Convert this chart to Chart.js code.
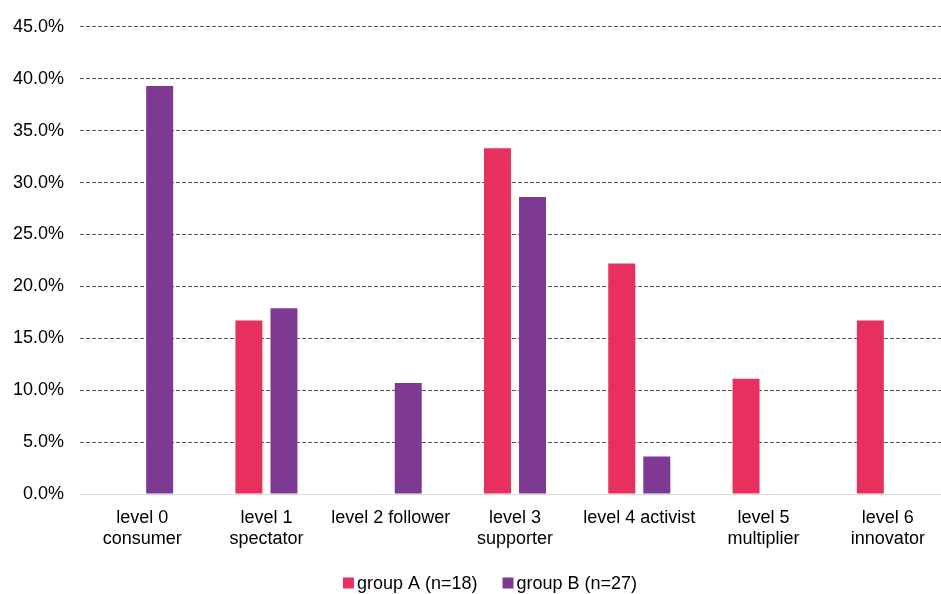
<!DOCTYPE html>
<html>
<head>
<meta charset="utf-8">
<script src="https://cdn.jsdelivr.net/npm/chart.js@4.4.0/dist/chart.umd.min.js"></script>
<style>
  html, body { margin: 0; padding: 0; background: #fff; overflow: hidden; }
  #wrap { width: 941px; height: 594px; overflow: hidden; }
</style>
</head>
<body>
<div id="wrap"><canvas id="c" width="950" height="594"></canvas></div>
<script>
// Participation levels (multi-line category labels)
const categories = [
  ['level 0', 'consumer'],
  ['level 1', 'spectator'],
  'level 2 follower',
  ['level 3', 'supporter'],
  'level 4 activist',
  ['level 5', 'multiplier'],
  ['level 6', 'innovator']
];
// Share of respondents per level, in percent
const groupA = [0, 16.7, 0, 33.3, 22.2, 11.1, 16.7];
const groupB = [39.3, 17.9, 10.7, 28.6, 3.6, 0, 0];
const seriesNames = ['group A (n=18)', 'group B (n=27)'];
const yTicks = [0, 5, 10, 15, 20, 25, 30, 35, 40, 45];

const FONT = 'Liberation Sans, Arial, sans-serif';

// Compact legend below the axis: small square swatch right next to its label
const bottomLegend = {
  id: 'bottomLegend',
  afterDraw(chart) {
    const ctx = chart.ctx;
    const box = 11, gapText = 3, gapItem = 25;
    ctx.save();
    ctx.font = '18px ' + FONT;
    ctx.textBaseline = 'middle';
    const items = chart.data.datasets.map(ds => ({
      text: ds.label, color: ds.backgroundColor, w: ctx.measureText(ds.label).width
    }));
    const total = items.reduce((s, it) => s + box + gapText + it.w, 0) + gapItem * (items.length - 1);
    let x = 490 - total / 2;
    const y = 583;
    items.forEach(it => {
      ctx.fillStyle = it.color;
      ctx.fillRect(x, y - box / 2, box, box);
      x += box + gapText;
      ctx.fillStyle = '#000';
      ctx.fillText(it.text, x, y + 1);
      x += it.w + gapItem;
    });
    ctx.restore();
  }
};

new Chart(document.getElementById('c'), {
  type: 'bar',
  data: {
    labels: categories,
    datasets: [
      { label: seriesNames[0], data: groupA, backgroundColor: '#E8305F' },
      { label: seriesNames[1], data: groupB, backgroundColor: '#7E3A92' }
    ]
  },
  plugins: [bottomLegend],
  options: {
    responsive: false,
    animation: false,
    devicePixelRatio: 1,
    layout: { padding: { top: 17, right: 0, left: 0, bottom: 0 } },
    datasets: {
      bar: { categoryPercentage: 0.564, barPercentage: 0.77 }
    },
    plugins: {
      tooltip: { enabled: false },
      legend: { display: false }
    },
    scales: {
      x: {
        afterFit: (axis) => { axis.height = 100; },
        grid: { display: false },
        border: { display: true, color: '#d9d9d9', width: 1 },
        ticks: {
          font: { family: FONT, size: 18 },
          color: '#000',
          maxRotation: 0,
          autoSkip: false,
          padding: 5
        }
      },
      y: {
        min: 0,
        max: 45,
        afterBuildTicks: (axis) => { axis.ticks = yTicks.map(v => ({ value: v })); },
        afterFit: (axis) => { axis.width = 80; },
        grid: {
          color: (ctx) => ctx.tick && ctx.tick.value === 0 ? 'rgba(0,0,0,0)' : '#555',
          lineWidth: 1,
          drawTicks: false
        },
        border: { display: false, dash: [4, 2] },
        ticks: {
          font: { family: FONT, size: 18 },
          color: '#000',
          padding: 16,
          callback: (v) => v.toFixed(1) + '%'
        }
      }
    }
  }
});
</script>
</body>
</html>
